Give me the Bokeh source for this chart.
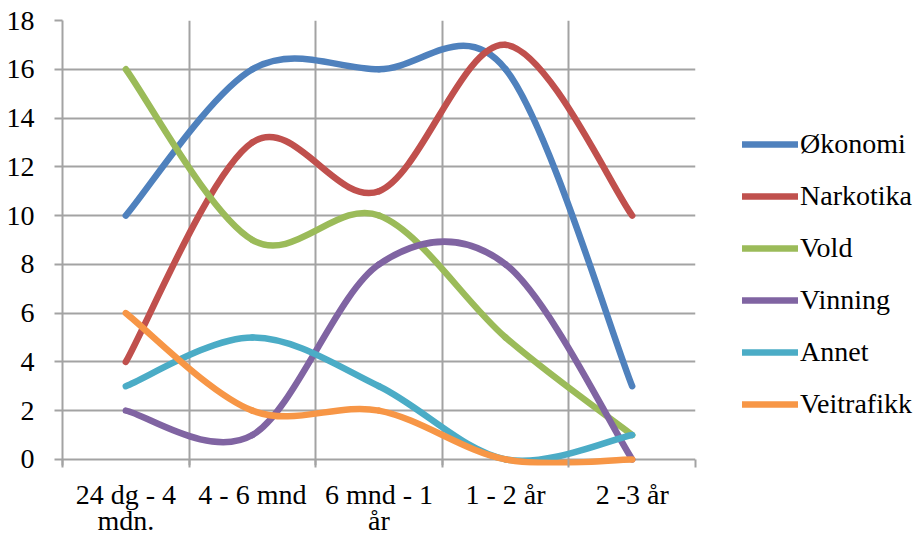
from bokeh.plotting import figure
from bokeh.layouts import row
from bokeh.models import (ColumnDataSource, FixedTicker, Range1d, Legend, LegendItem)
from bokeh.embed import file_html
from bokeh.resources import INLINE

# ---- data ----
categories = ["24 dg - 4\nmdn.", "4 - 6 mnd", "6 mnd - 1\når", "1 - 2 år", "2 -3 år"]
series_names = ["Økonomi", "Narkotika", "Vold", "Vinning", "Annet", "Veitrafikk"]
okonomi = [10, 16, 16, 16, 3]
narkotika = [4, 13, 11, 17, 10]
vold = [16, 9, 10, 5, 1]
vinning = [2, 1, 8, 8, 0]
annet = [3, 5, 3, 0, 1]
veitrafikk = [6, 2, 2, 0, 0]
y_ticks = [0, 2, 4, 6, 8, 10, 12, 14, 16, 18]
colors = ["#4F81BD", "#C0504D", "#9BBB59", "#8064A2", "#4BACC6", "#F79646"]

all_series = [okonomi, narkotika, vold, vinning, annet, veitrafikk]
n = len(categories)
xs = [i + 0.5 for i in range(n)]

FONT = "Liberation Serif"
FS = "28px"
GRID = "#a3a3a3"
LW = 6.5

p = figure(width=700, height=538, output_backend="svg", toolbar_location=None,
           x_range=Range1d(0, n), y_range=Range1d(-0.25, 18),
           min_border_left=62, min_border_top=20, min_border_right=5,
           min_border_bottom=72)
p.outline_line_color = None
p.background_fill_color = "white"

# axes
p.xaxis.ticker = FixedTicker(ticks=xs, minor_ticks=list(range(n + 1)))
p.xaxis.major_label_overrides = {x: c for x, c in zip(xs, categories)}
p.xaxis.major_tick_out = 0
p.xaxis.major_tick_in = 0
p.xaxis.minor_tick_out = 2
p.xaxis.minor_tick_in = 6
p.xaxis.minor_tick_line_color = GRID
p.xaxis.minor_tick_line_width = 2
p.xaxis.axis_line_color = None
p.xaxis.major_label_text_font = FONT
p.xaxis.major_label_text_font_size = FS
p.xaxis.major_label_text_color = "black"
p.xaxis.major_label_text_line_height = 0.85
p.xaxis.major_label_standoff = 11

p.yaxis.ticker = FixedTicker(ticks=y_ticks)
p.yaxis.major_tick_out = 8
p.yaxis.major_tick_in = 0
p.yaxis.minor_tick_line_color = None
p.yaxis.major_tick_line_color = GRID
p.yaxis.major_tick_line_width = 2
p.yaxis.axis_line_color = GRID
p.yaxis.axis_line_width = 2
p.yaxis.major_label_text_font = FONT
p.yaxis.major_label_text_font_size = FS
p.yaxis.major_label_text_color = "black"
p.yaxis.major_label_standoff = 20

p.xgrid.ticker = FixedTicker(ticks=list(range(n + 1)))
p.xgrid.grid_line_color = GRID
p.xgrid.grid_line_width = 2
p.ygrid.grid_line_color = GRID
p.ygrid.grid_line_width = 2

# legend figure
pl = figure(width=217, height=538, output_backend="svg", toolbar_location=None,
            x_range=Range1d(0, 1), y_range=Range1d(0, 1),
            min_border_left=0, min_border_right=0, min_border_top=0,
            min_border_bottom=0)
pl.axis.visible = False
pl.grid.visible = False
pl.outline_line_color = None

# smoothed lines (Bezier segments, Excel-like smoothing)
items = []
for name, vals, col in zip(series_names, all_series, colors):
    x0, y0, x1, y1, cx0, cy0, cx1, cy1 = [], [], [], [], [], [], [], []
    for i in range(n - 1):
        pm = i - 1 if i > 0 else i
        pp = i + 2 if i + 2 < n else i + 1
        x0.append(xs[i]); y0.append(vals[i])
        x1.append(xs[i + 1]); y1.append(vals[i + 1])
        cx0.append(xs[i] + (xs[i + 1] - xs[pm]) / 6)
        cy0.append(vals[i] + (vals[i + 1] - vals[pm]) / 6)
        cx1.append(xs[i + 1] - (xs[pp] - xs[i]) / 6)
        cy1.append(vals[i + 1] - (vals[pp] - vals[i]) / 6)
    src = ColumnDataSource(dict(x0=x0, y0=y0, x1=x1, y1=y1,
                                cx0=cx0, cy0=cy0, cx1=cx1, cy1=cy1))
    p.bezier(x0="x0", y0="y0", x1="x1", y1="y1", cx0="cx0", cy0="cy0",
             cx1="cx1", cy1="cy1", source=src, line_color=col, line_width=LW,
             line_cap="round")
    leg = pl.line(x=[0.5], y=[float("nan")], line_color=col, line_width=LW,
                  line_cap="round")
    items.append(LegendItem(label=name, renderers=[leg]))

legend = Legend(items=items, location=(42, 45))
legend.label_text_font = FONT
legend.label_text_font_size = FS
legend.label_text_color = "black"
legend.glyph_width = 56
legend.glyph_height = 30
legend.label_height = 30
legend.spacing = 20
legend.label_standoff = 2
legend.padding = 0
legend.margin = 0
legend.border_line_alpha = 0
legend.background_fill_alpha = 0
pl.add_layout(legend)

layout = row(p, pl, spacing=0)
open("out.html", "w").write(file_html(layout, INLINE))
